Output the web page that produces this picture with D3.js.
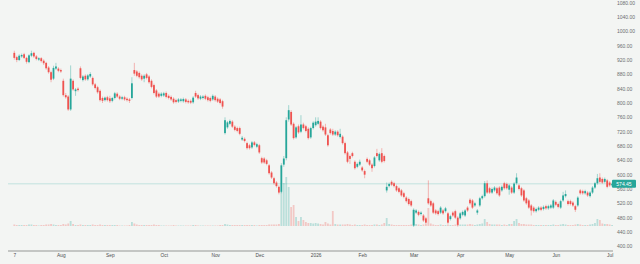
<!DOCTYPE html>
<html>
<head>
<meta charset="utf-8">
<script src="https://cdn.jsdelivr.net/npm/d3@7"></script>
<style>
  html, body { margin: 0; padding: 0; background: #f3f5f3; }
  text { font-family: "Liberation Sans", Arial, sans-serif; }
</style>
</head>
<body>
<div id="chart-area"></div>
<script>
// daily candles, Jul 7 2025 .. Jul 2 2026 (trading days only)
var opens = [
  940,928,920,930,936,926,914,932,940,930,921,925,918,912,899,886,868,896,896,892,
  862,822,818,782,862,833,840,897,864,876,866,874,870,852,844,834,814,808,816,813,
  806,814,826,818,812,816,812,810,814,892,888,884,876,868,880,874,862,850,835,826,
  820,821,828,820,817,812,808,804,806,805,810,806,806,802,828,822,812,814,820,816,
  814,810,818,812,810,805,716,732,742,748,734,730,730,698,700,688,682,676,690,678,
  682,646,645,640,626,606,590,578,566,552,628,646,754,775,742,704,735,720,740,735,
  728,704,730,738,742,748,734,732,710,726,722,712,720,705,706,688,662,652,660,636,
  622,628,620,610,644,640,628,624,660,640,660,652,556,568,580,576,568,562,556,548,
  536,532,526,458,494,496,490,486,478,534,526,520,500,498,494,500,498,492,476,494,
  498,480,478,488,486,508,530,528,514,494,514,534,540,576,562,550,556,562,564,556,
  576,574,558,564,550,576,570,562,556,534,528,514,508,498,502,508,504,512,506,508,
  508,524,518,508,528,540,526,526,522,512,514,556,554,548,550,540,550,564,576,592,
  588,580,584,578,570
];
var highs = [
  946,932,936,938,940,929,936,946,943,934,928,928,922,915,903,890,904,912,900,896,
  868,828,822,905,866,842,844,902,878,880,881,886,874,856,848,838,818,818,820,820,
  817,831,830,822,820,820,816,814,872,912,892,888,880,880,884,878,866,854,839,830,
  830,831,832,824,821,816,812,814,814,815,814,810,810,819,834,826,822,822,824,820,
  818,824,822,816,814,809,760,750,754,752,738,734,734,708,704,692,686,694,694,689,
  686,650,649,644,630,610,594,582,570,632,652,760,794,780,746,736,740,766,745,739,
  732,734,749,760,760,752,738,742,714,730,728,724,724,728,710,692,666,656,664,640,
  634,642,624,614,648,644,632,652,672,662,674,656,578,578,584,580,572,566,560,552,
  540,536,530,506,504,500,498,490,482,584,530,524,504,502,512,504,510,496,488,498,
  502,484,496,500,504,512,534,532,524,504,538,544,582,584,566,564,568,566,568,570,
  580,578,574,568,579,604,574,566,560,538,532,518,512,508,512,512,514,516,516,518,
  532,528,522,530,552,556,530,530,526,516,540,560,558,558,554,554,568,580,602,604,
  592,592,588,582,578
];
var lows = [
  921,914,917,926,923,910,911,928,926,919,917,913,906,893,882,858,864,892,886,884,
  818,812,778,778,834,820,832,866,860,862,862,870,848,838,826,804,800,804,804,800,
  802,810,814,808,808,806,804,800,810,876,872,868,862,858,866,854,841,824,814,814,
  816,817,813,810,806,798,799,800,802,801,799,798,797,798,814,809,808,810,808,804,
  802,806,804,800,796,784,712,728,738,730,721,718,710,694,690,670,670,672,679,674,
  658,630,630,626,600,588,572,564,545,548,622,640,748,736,698,700,714,716,726,718,
  698,700,726,734,738,726,720,708,678,712,708,708,706,701,684,656,632,630,648,614,
  618,624,608,590,632,624,608,620,648,636,632,634,550,564,568,564,552,548,538,534,
  522,514,510,454,490,484,486,468,460,516,510,490,488,486,490,488,494,462,472,482,
  476,455,474,484,482,496,516,504,510,488,510,530,536,546,546,546,552,544,538,552,
  558,558,544,546,546,572,556,538,524,516,504,486,494,494,498,498,500,502,502,504,
  504,512,506,504,524,536,514,514,510,496,510,544,544,544,538,536,546,560,572,576,
  574,576,562,566,566
];
var closes = [
  926,920,932,934,926,915,933,939,930,923,925,917,911,897,886,865,898,902,890,888,
  822,816,782,868,838,838,836,870,874,866,877,881,852,842,830,808,806,815,808,805,
  814,827,818,812,816,810,808,806,855,882,876,872,866,876,870,858,845,828,818,818,
  826,827,817,814,810,802,803,810,810,811,803,802,801,815,818,813,818,818,812,808,
  806,820,808,804,800,790,752,746,750,734,725,722,714,703,694,674,674,690,683,685,
  662,634,634,630,604,592,576,568,550,626,645,752,780,740,702,732,718,740,730,722,
  702,730,745,748,750,730,724,712,682,716,712,720,710,714,688,660,636,644,652,618,
  630,636,612,600,636,628,618,648,652,658,636,638,566,574,572,568,556,552,542,538,
  526,518,514,502,500,488,494,472,466,520,514,494,492,490,508,492,506,466,484,486,
  480,460,492,496,500,500,520,508,520,500,534,540,576,550,550,560,564,548,542,566,
  562,562,570,550,575,592,560,542,528,520,508,500,498,504,508,502,510,506,512,514,
  528,516,510,526,542,546,518,518,514,502,536,548,548,554,542,550,564,576,590,580,
  578,588,566,570,574.45
];
var volumes = [
  3,2,2,2,2,2,3,3,2,2,1,2,2,3,3,4,3,2,2,2,
  4,3,5,10,4,2,2,3,2,2,2,2,3,2,2,3,2,2,2,2,
  2,2,2,1,1,1,1,2,8,5,3,2,2,2,2,2,2,3,2,2,
  1,1,1,1,1,2,1,1,1,1,1,1,1,2,2,1,1,1,1,1,
  1,1,1,1,2,2,4,3,2,2,2,2,2,2,2,2,2,2,2,1,
  2,2,2,2,3,3,3,3,4,68,86,98,78,38,42,18,10,18,12,8,
  6,6,5,6,5,4,3,8,5,3,30,4,3,3,3,3,4,3,2,3,
  2,2,2,3,2,2,2,3,3,2,3,6,16,4,3,2,2,2,2,2,
  2,2,3,32,4,3,2,3,3,36,5,3,2,2,3,2,2,3,2,2,
  3,4,3,3,3,3,4,3,2,3,4,5,14,8,4,3,3,3,3,2,
  3,2,4,4,10,14,6,4,4,3,3,3,2,2,2,2,2,2,2,2,
  3,2,2,3,4,3,2,2,2,3,4,3,2,2,2,3,4,6,14,12,
  5,4,4,3,2
];
var monthTickIdx = [0, 19, 39, 61, 82, 100, 123, 142, 163, 182, 202, 221, 243];
var monthTickLabels = ["7", "Aug", "Sep", "Oct", "Nov", "Dec", "2026", "Feb", "Mar", "Apr", "May", "Jun", "Jul"];
var priceTicks = [400, 440, 480, 520, 560, 600, 640, 680, 720, 760, 800, 840, 880, 920, 960, 1000, 1040, 1080];
var lastPrice = 574.45;

var up = "#26a69a", down = "#ef5350";

var svg = d3.select("#chart-area").append("svg")
    .attr("width", 640)
    .attr("height", 264)
    .style("display", "block");

svg.append("rect").attr("width", 640).attr("height", 264).attr("fill", "#f3f5f3");

var data = closes.map(function(c, i) {
    return {i: i, o: opens[i], h: highs[i], l: lows[i], c: c, v: volumes[i]};
});

var x = d3.scaleLinear().domain([0, closes.length - 1]).range([14.3, 612.1]);
var y = d3.scaleLinear().domain([400, 1080]).range([246.3, 2.7]);
var yv = d3.scaleLinear().domain([0, 100]).range([226, 176]);

var bw = 1.8;

// volume
svg.append("g").selectAll("rect")
    .data(data)
    .enter().append("rect")
        .attr("x", function(d) { return x(d.i) - bw / 2; })
        .attr("y", function(d) { return yv(d.v); })
        .attr("width", bw)
        .attr("height", function(d) { return yv(0) - yv(d.v); })
        .attr("fill", function(d) { return d.c >= d.o ? up : down; })
        .attr("opacity", 0.28);

// last price line
svg.append("line")
    .attr("x1", 8).attr("x2", 613)
    .attr("y1", y(lastPrice)).attr("y2", y(lastPrice))
    .attr("stroke", up).attr("stroke-opacity", 0.3).attr("stroke-width", 0.8);

// candles
var candles = svg.append("g").selectAll("g")
    .data(data)
    .enter().append("g");

candles.append("line")
    .attr("x1", function(d) { return x(d.i); })
    .attr("x2", function(d) { return x(d.i); })
    .attr("y1", function(d) { return y(d.h); })
    .attr("y2", function(d) { return y(d.l); })
    .attr("stroke", function(d) { return d.c >= d.o ? up : down; })
    .attr("stroke-opacity", 0.45)
    .attr("stroke-width", 0.9);

candles.append("rect")
    .attr("x", function(d) { return x(d.i) - bw / 2; })
    .attr("y", function(d) { return y(Math.max(d.o, d.c)); })
    .attr("width", bw)
    .attr("height", function(d) { return Math.max(0.8, Math.abs(y(d.o) - y(d.c))); })
    .attr("fill", function(d) { return d.c >= d.o ? up : down; });

// x axis
svg.append("line")
    .attr("x1", 8).attr("x2", 613)
    .attr("y1", 251).attr("y2", 251)
    .attr("stroke", "#b4b6b4").attr("stroke-width", 1.5);

var xAxis = svg.append("g")
    .attr("transform", "translate(0,253)")
    .call(d3.axisBottom(x)
        .tickValues(monthTickIdx)
        .tickFormat(function(d, i) { return monthTickLabels[i]; })
        .tickSize(0)
        .tickPadding(1));
xAxis.select(".domain").remove();
xAxis.selectAll("text")
    .attr("fill", "#4a4c4f")
    .style("font-size", "4.8px");

// y axis (right)
var yAxis = svg.append("g")
    .attr("transform", "translate(617,0)")
    .call(d3.axisRight(y)
        .tickValues(priceTicks)
        .tickFormat(d3.format(".2f"))
        .tickSize(0)
        .tickPadding(0));
yAxis.select(".domain").remove();
yAxis.selectAll("text")
    .attr("fill", "#6b6d70")
    .style("font-size", "5px");

// last price label
svg.append("rect")
    .attr("x", 612).attr("y", y(lastPrice) - 4)
    .attr("width", 24).attr("height", 8)
    .attr("rx", 1)
    .attr("fill", up);
svg.append("text")
    .attr("x", 624).attr("y", y(lastPrice))
    .attr("dy", "0.35em")
    .attr("text-anchor", "middle")
    .attr("fill", "#ffffff")
    .style("font-size", "5px")
    .text(d3.format(".2f")(lastPrice));
</script>
</body>
</html>
